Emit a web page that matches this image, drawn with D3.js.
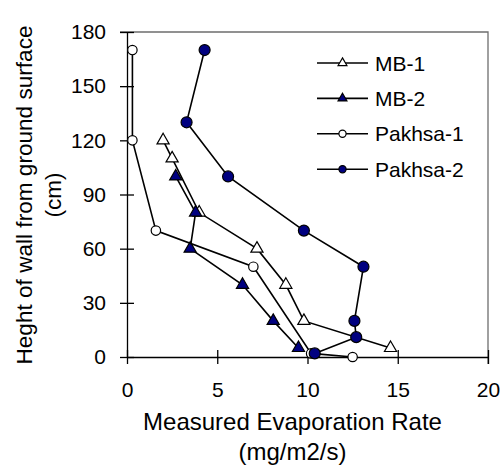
<!DOCTYPE html>
<html>
<head>
<meta charset="utf-8">
<script src="https://cdnjs.cloudflare.com/ajax/libs/d3/7.8.5/d3.min.js"></script>
<style>
  body { margin: 0; background: #fff; }
  text { font-family: "Liberation Sans", Arial, sans-serif; fill: #000; }
</style>
</head>
<body>
<svg class="chart"></svg>
<script>
// chart size
var width = 502;
var height = 467;
var margin = {top: 32, right: 14, bottom: 110, left: 127};
var w = width - margin.left - margin.right;
var h = height - margin.top - margin.bottom;

// data (x = evaporation rate, y = height)
var seriesNames = ["MB-1", "MB-2", "Pakhsa-1", "Pakhsa-2"];
var mb1X = [2.0, 2.5, 4.0, 7.2, 8.8, 9.8, 14.6];
var mb1Y = [120, 110, 80, 60, 40, 20, 5];
var mb2X = [2.7, 3.8, 3.5, 6.4, 8.1, 9.5];
var mb2Y = [100, 80, 60, 40, 20, 5];
var pakhsa1X = [0.3, 0.3, 1.6, 7.0, 10.2, 12.5];
var pakhsa1Y = [170, 120, 70, 50, 2, 0];
var pakhsa2X = [4.3, 3.3, 5.6, 9.8, 13.1, 12.6, 12.7, 10.4];
var pakhsa2Y = [170, 130, 100, 70, 50, 20, 11, 2];
var xTicks = [0, 5, 10, 15, 20];
var yTicks = [0, 30, 60, 90, 120, 150, 180];

var series = [
    {name: seriesNames[0], xs: mb1X, ys: mb1Y, shape: "triangle", fill: "#fff"},
    {name: seriesNames[1], xs: mb2X, ys: mb2Y, shape: "triangle", fill: "#000080"},
    {name: seriesNames[2], xs: pakhsa1X, ys: pakhsa1Y, shape: "circle", fill: "#fff"},
    {name: seriesNames[3], xs: pakhsa2X, ys: pakhsa2Y, shape: "circle", fill: "#000080"}
];

var svg = d3.select(".chart")
    .attr("width", width)
    .attr("height", height);

var chart = svg.append("g")
    .attr("transform", "translate(" + margin.left + "," + margin.top + ")");

var x = d3.scaleLinear().domain([0, 20]).range([0, w]);
var y = d3.scaleLinear().domain([0, 180]).range([h, 0]);

// plot frame on top and right
chart.append("path")
    .attr("d", "M-7,0H" + w + "V" + (h + 7))
    .attr("fill", "none")
    .attr("stroke", "#6e6e6e")
    .attr("stroke-width", 1.3);

// x axis, ticks cross the line
var xAxis = chart.append("g")
    .attr("transform", "translate(0," + h + ")")
    .call(d3.axisBottom(x).tickValues(xTicks).tickSize(0).tickPadding(25));
xAxis.select(".domain").attr("stroke", "#000").attr("stroke-width", 1.3);
xAxis.selectAll(".tick line").attr("y1", -7).attr("y2", 7).attr("stroke", "#000").attr("stroke-width", 1.3);
xAxis.selectAll(".tick text").style("font-size", "21px");

// y axis
var yAxis = chart.append("g")
    .call(d3.axisLeft(y).tickValues(yTicks).tickSize(0).tickPadding(21));
yAxis.select(".domain").attr("stroke", "#000").attr("stroke-width", 1.3);
yAxis.selectAll(".tick line").attr("x1", -7).attr("x2", 7).attr("stroke", "#000").attr("stroke-width", 1.3);
yAxis.selectAll(".tick text").style("font-size", "21px");

// axis titles
svg.append("text")
    .attr("x", 292.5).attr("y", 430)
    .attr("text-anchor", "middle")
    .style("font-size", "24px")
    .text("Measured Evaporation Rate");
svg.append("text")
    .attr("x", 292.5).attr("y", 460)
    .attr("text-anchor", "middle")
    .style("font-size", "24px")
    .text("(mg/m2/s)");
svg.append("text")
    .attr("transform", "translate(32,195) rotate(-90)")
    .attr("text-anchor", "middle")
    .style("font-size", "22.6px")
    .text("Heght of wall from ground surface");
svg.append("text")
    .attr("transform", "translate(61,195) rotate(-90)")
    .attr("text-anchor", "middle")
    .style("font-size", "22.6px")
    .text("(cm)");

var line = d3.line()
    .x(function(d) { return x(d[0]); })
    .y(function(d) { return y(d[1]); });

function marker(sel, s, big) {
    if (s.shape === "triangle") {
        sel.append("path")
            .attr("d", d3.symbol().type(d3.symbolTriangle).size(big ? 64 : 34)());
    } else {
        sel.append("circle").attr("r", big ? (s.fill === "#fff" ? 4.7 : 5.5) : 3.6);
    }
    sel.selectAll("path, circle")
        .attr("fill", s.fill)
        .attr("stroke", "#000")
        .attr("stroke-width", 1.2);
}

// lines and markers for each series
series.forEach(function(s) {
    var pts = s.xs.map(function(v, i) { return [v, s.ys[i]]; });
    chart.append("path")
        .datum(pts)
        .attr("d", line)
        .attr("fill", "none")
        .attr("stroke", "#000")
        .attr("stroke-width", 1.6);
    pts.forEach(function(p) {
        var g = chart.append("g")
            .attr("transform", "translate(" + x(p[0]) + "," + y(p[1]) + ")");
        marker(g, s, true);
    });
});

// legend
var legend = svg.append("g").attr("transform", "translate(317,63)");
series.forEach(function(s, i) {
    var row = legend.append("g").attr("transform", "translate(0," + (i * 35.4) + ")");
    row.append("line")
        .attr("x1", 0).attr("x2", 51)
        .attr("stroke", "#000").attr("stroke-width", 1.6);
    var m = row.append("g").attr("transform", "translate(25.5,0)");
    marker(m, s, false);
    row.append("text")
        .attr("x", 58).attr("y", 7.5)
        .style("font-size", "21px")
        .text(s.name);
});
</script>
</body>
</html>
